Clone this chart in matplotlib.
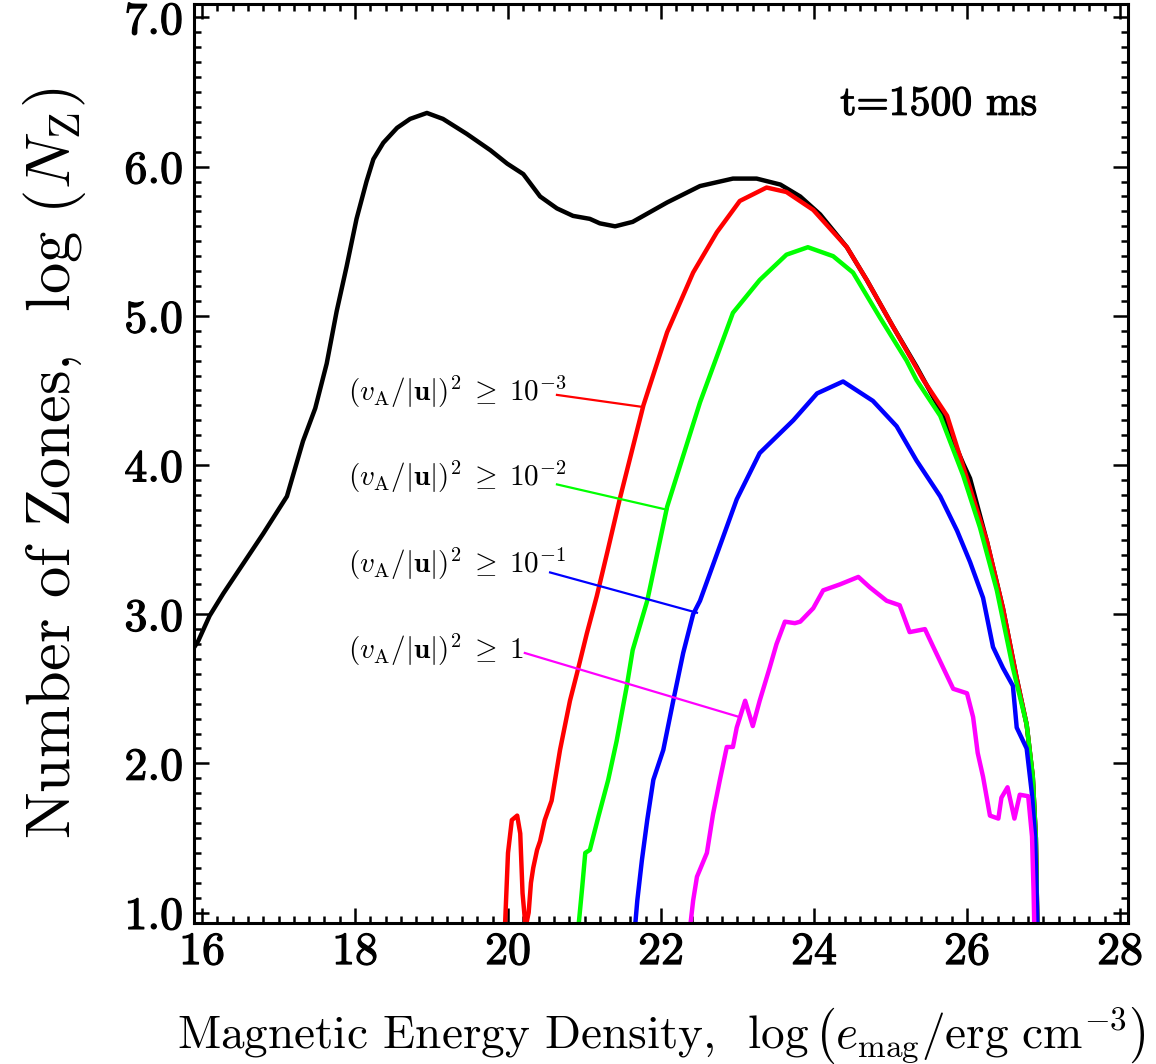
import numpy as np
import matplotlib
matplotlib.use('Agg')
import matplotlib.pyplot as plt
import matplotlib.patheffects as pe
from matplotlib.ticker import MultipleLocator, FormatStrFormatter

plt.rcParams['font.family'] = ['cmr10', 'DejaVu Serif']
plt.rcParams['mathtext.fontset'] = 'cm'
plt.rcParams['axes.formatter.use_mathtext'] = True

# 数据：读图得到的曲线点 (log e_mag, log N_z)
black_x = [15.9, 15.95, 16.1, 16.28, 16.54, 16.8, 17.11, 17.32, 17.48, 17.63, 17.76, 17.89,
           18.02, 18.15, 18.24, 18.37, 18.55, 18.72, 18.94, 19.15, 19.46, 19.77, 19.99, 20.2,
           20.42, 20.64, 20.85, 21.07, 21.2, 21.4, 21.63, 22.08, 22.51, 22.94, 23.25, 23.56,
           23.82, 24.08, 24.43, 24.69, 25.03, 25.34, 25.65, 25.95, 26.04, 26.26, 26.47, 26.65,
           26.78, 26.86, 26.9, 26.92]
black_y = [2.78, 2.82, 2.99, 3.14, 3.34, 3.54, 3.79, 4.16, 4.38, 4.68, 5.03, 5.33,
           5.65, 5.90, 6.05, 6.16, 6.26, 6.32, 6.36, 6.32, 6.22, 6.11, 6.02, 5.95,
           5.80, 5.72, 5.67, 5.65, 5.62, 5.60, 5.63, 5.76, 5.87, 5.92, 5.92, 5.88,
           5.80, 5.68, 5.46, 5.24, 4.93, 4.66, 4.37, 4.01, 3.91, 3.49, 3.04, 2.57,
           2.26, 1.91, 1.5, 0.9]

red_x = [19.96, 20.0, 20.05, 20.12, 20.16, 20.19, 20.23, 20.27, 20.3, 20.33, 20.38, 20.42,
         20.48, 20.57, 20.68, 20.81, 20.9, 21.03, 21.16, 21.3, 21.46, 21.77, 22.08, 22.42,
         22.73, 23.03, 23.38, 23.64, 23.99, 24.43, 24.69, 25.03, 25.43, 25.74, 26.0, 26.26,
         26.47, 26.65, 26.78, 26.86, 26.9, 26.92]
red_y = [0.9, 1.40, 1.62, 1.65, 1.53, 1.13, 0.9, 1.0, 1.2, 1.30, 1.42, 1.48,
         1.62, 1.75, 2.09, 2.42, 2.60, 2.87, 3.12, 3.42, 3.77, 4.40, 4.89, 5.29,
         5.56, 5.77, 5.86, 5.83, 5.71, 5.46, 5.24, 4.93, 4.57, 4.33, 3.91, 3.49,
         3.04, 2.57, 2.26, 1.91, 1.5, 0.9]

green_x = [20.92, 20.97, 21.01, 21.07, 21.18, 21.31, 21.42, 21.55, 21.63, 21.82, 22.08, 22.51,
           22.94, 23.29, 23.64, 23.92, 24.25, 24.51, 24.86, 25.21, 25.34, 25.65, 25.95, 26.17,
           26.39, 26.6, 26.78, 26.86, 26.9, 26.92]
green_y = [0.9, 1.17, 1.40, 1.42, 1.64, 1.89, 2.15, 2.51, 2.76, 3.09, 3.72, 4.42,
           5.02, 5.24, 5.41, 5.46, 5.40, 5.29, 4.99, 4.70, 4.57, 4.33, 3.93, 3.58,
           3.16, 2.64, 2.26, 1.91, 1.5, 0.9]

blue_x = [21.66, 21.69, 21.75, 21.82, 21.9, 22.03, 22.16, 22.29, 22.42, 22.51, 22.99, 23.29,
          23.73, 24.04, 24.38, 24.77, 25.08, 25.34, 25.65, 25.87, 26.04, 26.21, 26.34, 26.47,
          26.6, 26.65, 26.78, 26.85, 26.89, 26.91, 26.92]
blue_y = [0.9, 1.08, 1.35, 1.62, 1.89, 2.09, 2.42, 2.74, 3.0, 3.09, 3.77, 4.08,
          4.30, 4.48, 4.56, 4.43, 4.26, 4.03, 3.79, 3.56, 3.35, 3.11, 2.78, 2.64,
          2.52, 2.24, 2.10, 1.79, 1.51, 1.13, 0.9]

mag_x = [22.38, 22.42, 22.47, 22.6, 22.68, 22.77, 22.86, 22.94, 22.99, 23.1, 23.2, 23.29,
         23.42, 23.51, 23.62, 23.75, 23.82, 23.99, 24.12, 24.34, 24.58, 24.73, 24.95, 25.12,
         25.25, 25.45, 25.56, 25.69, 25.82, 26.0, 26.08, 26.14, 26.21, 26.3, 26.41, 26.45,
         26.53, 26.62, 26.69, 26.8, 26.85, 26.87, 26.88]
mag_y = [0.9, 1.08, 1.24, 1.40, 1.66, 1.89, 2.11, 2.11, 2.24, 2.42, 2.25, 2.42,
         2.64, 2.80, 2.95, 2.94, 2.95, 3.04, 3.16, 3.20, 3.25, 3.18, 3.09, 3.06,
         2.88, 2.90, 2.78, 2.64, 2.50, 2.47, 2.31, 2.07, 1.91, 1.65, 1.63, 1.77,
         1.84, 1.63, 1.79, 1.78, 1.51, 1.15, 0.9]

# 标注文字和指示线
label_texts = [r'$(v_{\rm A}/|\mathbf{u}|)^2 \;\geq\; 10^{-3}$',
               r'$(v_{\rm A}/|\mathbf{u}|)^2 \;\geq\; 10^{-2}$',
               r'$(v_{\rm A}/|\mathbf{u}|)^2 \;\geq\; 10^{-1}$',
               r'$(v_{\rm A}/|\mathbf{u}|)^2 \;\geq\; 1$']
label_y = [4.49, 3.92, 3.34, 2.76]
pointer_x0 = [20.64, 20.64, 20.55, 20.22]
pointer_y0 = [4.47, 3.87, 3.28, 2.74]
pointer_x1 = [21.75, 22.08, 22.47, 23.03]
pointer_y1 = [4.39, 3.70, 3.01, 2.31]
colors = ['#ff0000', '#00ff00', '#0000ff', '#ff00ff']

fig = plt.figure(figsize=(11.56, 10.64), dpi=100)
ax = fig.add_axes([0.1678, 0.1325, 0.808, 0.8637])

ax.plot(black_x, black_y, color='black', lw=3.2)
ax.plot(red_x, red_y, color=colors[0], lw=3.2)
ax.plot(green_x, green_y, color=colors[1], lw=3.2)
ax.plot(blue_x, blue_y, color=colors[2], lw=3.2)
ax.plot(mag_x, mag_y, color=colors[3], lw=3.2)

for i in range(4):
    ax.plot([pointer_x0[i], pointer_x1[i]], [pointer_y0[i], pointer_y1[i]],
            color=colors[i], lw=1.6)
    ax.text(17.91, label_y[i], label_texts[i], fontsize=21, ha='left', va='center')

heavy = [pe.withStroke(linewidth=0.9, foreground='black')]
ax.text(26.92, 6.42, 't=1500 ms', fontsize=30, ha='right', va='center',
        family=['cmr10', 'DejaVu Serif'], path_effects=heavy)

ax.set_xlim(15.895, 28.105)
ax.set_ylim(0.93, 7.09)

ax.xaxis.set_major_locator(MultipleLocator(2))
ax.xaxis.set_minor_locator(MultipleLocator(0.2))
ax.yaxis.set_major_locator(MultipleLocator(1))
ax.yaxis.set_minor_locator(MultipleLocator(0.1))
ax.xaxis.set_major_formatter(FormatStrFormatter('%d'))
ax.yaxis.set_major_formatter(FormatStrFormatter('%.1f'))

for s in ax.spines.values():
    s.set_linewidth(2.2)
ax.tick_params(which='both', direction='in', top=True, right=True, width=1.8)
ax.tick_params(which='major', length=11, labelsize=33)
ax.tick_params(which='minor', length=5)
ax.tick_params(axis='x', pad=6)
ax.tick_params(axis='y', pad=8)
for lab in ax.get_xticklabels() + ax.get_yticklabels():
    lab.set_path_effects(heavy)

ax.set_xlabel(r'Magnetic Energy Density,  $\log\left(e_{\rm mag}/{\rm erg\ cm}^{-3}\right)$',
              fontsize=34, labelpad=23)
ax.set_ylabel(r'Number of Zones,  $\log\,(N_{\rm Z})$', fontsize=45, labelpad=26)

fig.savefig('out.png', dpi=100)
